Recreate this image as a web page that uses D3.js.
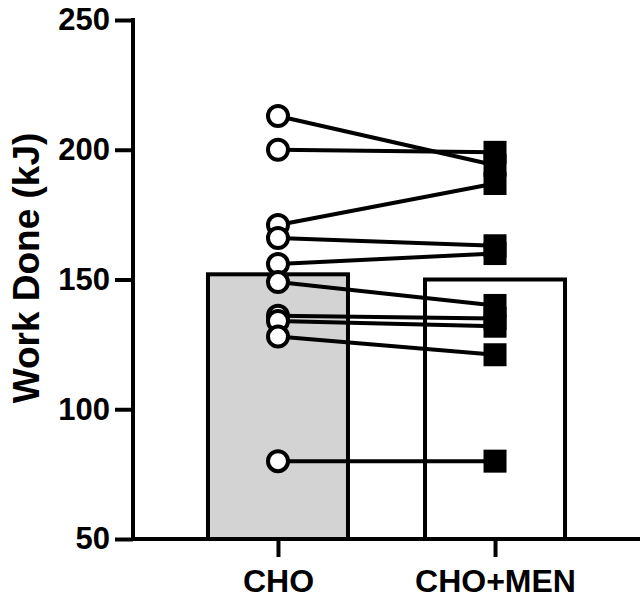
<!DOCTYPE html>
<html>
<head>
<meta charset="utf-8">
<script src="https://cdn.jsdelivr.net/npm/d3@7"></script>
<style>
  body { margin: 0; background: #fff; }
  svg text { font-family: "Liberation Sans", Arial, sans-serif; font-weight: bold; fill: #000; }
</style>
</head>
<body>
<svg id="chart" width="640" height="602"></svg>
<script>
// conditions and group means (bar heights)
const conditions = ["CHO", "CHO+MEN"];
const meanWork = [152, 150];

// paired values per participant
const choWork = [213, 200, 171, 166, 156, 149, 136, 134, 128, 80];
const menWork = [194, 199, 187, 163, 160, 140, 135, 132, 121, 80];

const yTicks = [50, 100, 150, 200, 250];

const svg = d3.select("#chart");
const width = 640;
const marginLeft = 133;
const marginTop = 20;
const plotBottom = 539;
const barWidth = 140;

const y = d3.scaleLinear().domain([50, 250]).range([plotBottom, marginTop]);
const x = d3.scalePoint().domain(conditions).range([marginLeft, width]).padding(0.668);

// bars
svg.selectAll(".bar")
  .data(conditions)
  .join("rect")
  .attr("class", "bar")
  .attr("x", (d) => x(d) - barWidth / 2)
  .attr("y", (d, i) => y(meanWork[i]))
  .attr("width", barWidth)
  .attr("height", (d, i) => plotBottom - y(meanWork[i]))
  .attr("fill", (d, i) => (i === 0 ? "#d3d3d3" : "#fff"))
  .attr("stroke", "#000")
  .attr("stroke-width", 4);

// paired lines
const pairs = choWork.map((v, i) => [v, menWork[i]]);
svg.selectAll(".pair")
  .data(pairs)
  .join("line")
  .attr("class", "pair")
  .attr("x1", x(conditions[0]))
  .attr("y1", (d) => y(d[0]))
  .attr("x2", x(conditions[1]))
  .attr("y2", (d) => y(d[1]))
  .attr("stroke", "#000")
  .attr("stroke-width", 4);

// CHO points: open circles
svg.selectAll(".cho")
  .data(choWork)
  .join("circle")
  .attr("class", "cho")
  .attr("cx", x(conditions[0]))
  .attr("cy", (d) => y(d))
  .attr("r", 10)
  .attr("fill", "#fff")
  .attr("stroke", "#000")
  .attr("stroke-width", 4);

// CHO+MEN points: filled squares
const sq = 23;
svg.selectAll(".men")
  .data(menWork)
  .join("rect")
  .attr("class", "men")
  .attr("x", x(conditions[1]) - sq / 2)
  .attr("y", (d) => y(d) - sq / 2)
  .attr("width", sq)
  .attr("height", sq)
  .attr("fill", "#000");

// y axis
const yAxis = svg.append("g")
  .attr("transform", `translate(${marginLeft},0)`)
  .call(d3.axisLeft(y).tickValues(yTicks).tickSize(18).tickPadding(5));
yAxis.selectAll("text").style("font-size", "31px");

// x axis
const xAxis = svg.append("g")
  .attr("transform", `translate(0,${plotBottom})`)
  .call(d3.axisBottom(x).tickSize(18).tickPadding(12).tickSizeOuter(0));
xAxis.select(".domain").attr("d", `M${marginLeft},0H${width}`);
xAxis.selectAll("text").style("font-size", "32px");

svg.selectAll(".domain, .tick line").attr("stroke", "#000").attr("stroke-width", 4);
yAxis.select(".domain").attr("d", `M0,${marginTop}V${plotBottom}`).attr("stroke-linecap", "square");

// y title
svg.append("text")
  .attr("transform", `translate(39,268) rotate(-90)`)
  .attr("text-anchor", "middle")
  .style("font-size", "37px")
  .text("Work Done (kJ)");
</script>
</body>
</html>
